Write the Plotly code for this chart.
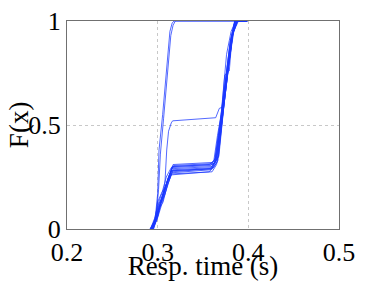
import plotly.graph_objects as go

# ---- data: empirical CDFs of response time (s) for each run ----
run01_x = [0.2920,0.2975,0.3010,0.3050,0.3100,0.3150,0.3590,0.3640,0.3700,0.3760,0.3810,0.3860,0.3980]
run01_y = [0,0.05,0.12,0.15,0.22,0.27,0.285,0.33,0.52,0.74,0.91,1,1]
run02_x = [0.2930,0.2985,0.3020,0.3060,0.3110,0.3160,0.3600,0.3650,0.3710,0.3770,0.3820,0.3870,0.3985]
run02_y = [0,0.06,0.10,0.16,0.24,0.29,0.30,0.34,0.56,0.77,0.93,1,1]
run03_x = [0.2915,0.2970,0.3000,0.3040,0.3090,0.3145,0.3570,0.3630,0.3690,0.3750,0.3800,0.3850,0.3975]
run03_y = [0,0.04,0.13,0.17,0.21,0.26,0.275,0.31,0.50,0.71,0.90,1,1]
run04_x = [0.2940,0.2990,0.3030,0.3070,0.3120,0.3170,0.3610,0.3660,0.3720,0.3780,0.3830,0.3880,0.3990]
run04_y = [0,0.07,0.12,0.18,0.25,0.31,0.32,0.36,0.58,0.79,0.94,1,1]
run05_x = [0.2925,0.2980,0.3015,0.3055,0.3105,0.3155,0.3595,0.3645,0.3705,0.3765,0.3815,0.3865,0.3980]
run05_y = [0,0.05,0.11,0.14,0.23,0.28,0.29,0.33,0.54,0.75,0.92,1,1]
run06_x = [0.2950,0.3000,0.3040,0.3080,0.3120,0.3165,0.3620,0.3670,0.3725,0.3785,0.3835,0.3885,0.3990]
run06_y = [0,0.06,0.14,0.19,0.24,0.30,0.31,0.35,0.57,0.80,0.95,1,1]
run07_x = [0.2935,0.2990,0.3025,0.3065,0.3115,0.3160,0.3605,0.3655,0.3715,0.3775,0.3825,0.3875,0.3985]
run07_y = [0,0.04,0.09,0.15,0.22,0.275,0.29,0.32,0.55,0.76,0.93,1,1]
run08_x = [0.2920,0.2965,0.3005,0.3045,0.3095,0.3150,0.3585,0.3635,0.3695,0.3755,0.3805,0.3855,0.3975]
run08_y = [0,0.05,0.12,0.17,0.25,0.295,0.305,0.34,0.53,0.73,0.91,1,1]
run09_x = [0.2945,0.2995,0.3035,0.3075,0.3125,0.3170,0.3615,0.3665,0.3720,0.3780,0.3830,0.3880,0.3990]
run09_y = [0,0.06,0.13,0.16,0.23,0.285,0.295,0.33,0.56,0.78,0.94,1,1]
run10_x = [0.2930,0.2980,0.3020,0.3060,0.3105,0.3155,0.3600,0.3650,0.3710,0.3770,0.3820,0.3870,0.3980]
run10_y = [0,0.05,0.10,0.13,0.21,0.265,0.275,0.31,0.52,0.74,0.92,1,1]
run11_x = [0.2955,0.3005,0.3045,0.3085,0.3130,0.3175,0.3625,0.3675,0.3730,0.3790,0.3840,0.3890,0.3995]
run11_y = [0,0.07,0.15,0.20,0.26,0.305,0.315,0.35,0.59,0.81,0.95,1,1]
run12_x = [0.2925,0.2975,0.3010,0.3050,0.3100,0.3150,0.3580,0.3625,0.3685,0.3745,0.3800,0.3850,0.3975]
run12_y = [0,0.04,0.11,0.16,0.22,0.28,0.29,0.32,0.50,0.72,0.90,1,1]
run13_x = [0.2940,0.2990,0.3030,0.3070,0.3115,0.3160,0.3570,0.3620,0.3660,0.3700,0.3760,0.3810,0.3860,0.3985]
run13_y = [0,0.06,0.12,0.17,0.24,0.30,0.31,0.33,0.45,0.55,0.84,0.95,1,1]
run14_x = [0.2935,0.2975,0.3000,0.3015,0.3055,0.3080,0.3105,0.3135,0.3160,0.3180,0.3980]
run14_y = [0,0.06,0.17,0.38,0.55,0.68,0.82,0.95,0.99,1,1]
run15_x = [0.2945,0.2985,0.3010,0.3030,0.3065,0.3090,0.3115,0.3145,0.3170,0.3195,0.3980]
run15_y = [0,0.07,0.19,0.36,0.53,0.66,0.80,0.93,0.98,1,1]
run16_x = [0.2950,0.3000,0.3040,0.3080,0.3100,0.3120,0.3150,0.3165,0.3640,0.3680,0.3710,0.3740,0.3790,0.3820,0.3850,0.3985]
run16_y = [0,0.06,0.13,0.22,0.38,0.47,0.51,0.52,0.535,0.58,0.585,0.74,0.76,0.92,1,1]

runs = [
    (run01_x, run01_y), (run02_x, run02_y), (run03_x, run03_y), (run04_x, run04_y),
    (run05_x, run05_y), (run06_x, run06_y), (run07_x, run07_y), (run08_x, run08_y),
    (run09_x, run09_y), (run10_x, run10_y), (run11_x, run11_y), (run12_x, run12_y),
    (run13_x, run13_y), (run14_x, run14_y), (run15_x, run15_y), (run16_x, run16_y),
]

x_ticks = [0.2, 0.3, 0.4, 0.5]
x_tick_text = ["0.2", "0.3", "0.4", "0.5"]
y_ticks = [0, 0.5, 1]
y_tick_text = ["0", "0.5", "1"]
x_label = "Resp. time (s)"
y_label = "F(x)"

fig = go.Figure()
for xs, ys in runs:
    fig.add_trace(go.Scatter(
        x=xs, y=ys, mode="lines",
        line=dict(color="rgba(25,55,255,0.75)", width=1),
        showlegend=False, hoverinfo="skip",
    ))

FONT = "Liberation Serif"
fig.update_layout(
    width=366, height=273,
    margin=dict(l=59, r=35, t=13, b=52),
    paper_bgcolor="white", plot_bgcolor="white",
    font=dict(family=FONT, color="black", size=26),
    showlegend=False,
)
fig.update_xaxes(
    range=[0.2, 0.5], tickvals=x_ticks, ticktext=x_tick_text,
    showline=True, linecolor="#707070", linewidth=1, mirror=True,
    showgrid=True, gridcolor="#c8c8c8", griddash="dot", gridwidth=1,
    zeroline=False, ticks="", tickfont=dict(size=26, family=FONT),
    ticklabeloverflow="allow",
    title=dict(text=x_label, font=dict(size=27, family=FONT), standoff=0),
    automargin=False,
)
fig.update_yaxes(
    range=[0, 1], tickvals=y_ticks, ticktext=y_tick_text,
    showline=True, linecolor="#707070", linewidth=1, mirror=True,
    showgrid=True, gridcolor="#c8c8c8", griddash="dot", gridwidth=1,
    zeroline=False, ticks="", tickfont=dict(size=26, family=FONT),
    ticklabeloverflow="allow",
    automargin=False,
)
fig.add_annotation(
    text=y_label, xref="paper", yref="paper", x=-0.176, y=0.5,
    xanchor="center", yanchor="middle", textangle=-90, showarrow=False,
    font=dict(size=27, family=FONT, color="black"),
)

fig.write_html("out.html")
